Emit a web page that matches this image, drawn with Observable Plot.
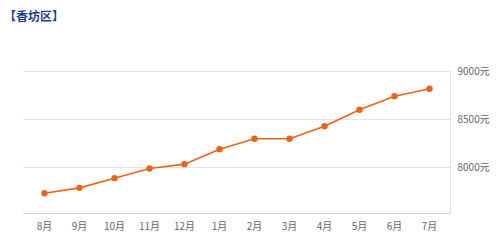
<!DOCTYPE html>
<html>
<head>
<meta charset="utf-8">
<script src="https://cdn.jsdelivr.net/npm/d3@7"></script>
<script src="https://cdn.jsdelivr.net/npm/@observablehq/plot@0.6"></script>
<style>
  html, body { margin: 0; padding: 0; background: #fff; }
  body { width: 500px; height: 241px; overflow: hidden; font-family: "Noto Sans CJK SC", "Noto Sans", sans-serif; }
  #title { height: 30px; line-height: 32px; padding-left: 4px; font-size: 12px; font-weight: bold; color: #1f3d8c; }
  svg { display: block; }
</style>
</head>
<body>
<div id="title">【香坊区】</div>
<div id="chart"></div>
<script>
const months = ["8月","9月","10月","11月","12月","1月","2月","3月","4月","5月","6月","7月"];
const prices = [7732, 7788, 7889, 7990, 8035, 8191, 8299, 8299, 8430, 8601, 8743, 8820];
const yTicks = [8000, 8500, 9000];
const yDomain = [7521, 9000];
const unit = "元";

const data = months.map((m, i) => ({month: m, price: prices[i]}));
const color = "#e8641b";

const chart = Plot.plot({
  width: 500,
  height: 211,
  marginTop: 41,
  marginBottom: 28,
  marginLeft: 23,
  marginRight: 50,
  style: {fontFamily: '"Noto Sans CJK SC", "Noto Sans", sans-serif', fontSize: "10px", color: "#666", background: "#fff"},
  x: {type: "point", domain: months, padding: 0.5, label: null},
  y: {domain: yDomain, label: null},
  marks: [
    Plot.ruleY(yTicks, {stroke: "#e3e3e3", strokeWidth: 1}),
    Plot.frame({anchor: "bottom", stroke: "#d6d6d6"}),
    Plot.frame({anchor: "right", stroke: "#e0e0e0"}),
    Plot.axisX({tickSize: 0, tickPadding: 9, fill: "#666", fontSize: 10}),
    Plot.axisY({anchor: "right", ticks: yTicks, tickSize: 0, tickPadding: 7, tickFormat: d => d + unit, fill: "#666", fontSize: 10}),
    Plot.line(data, {x: "month", y: "price", stroke: color, strokeWidth: 1.6}),
    Plot.dot(data, {x: "month", y: "price", fill: color, r: 3.2, stroke: "none"})
  ]
});
document.getElementById("chart").appendChild(chart);
</script>
</body>
</html>
